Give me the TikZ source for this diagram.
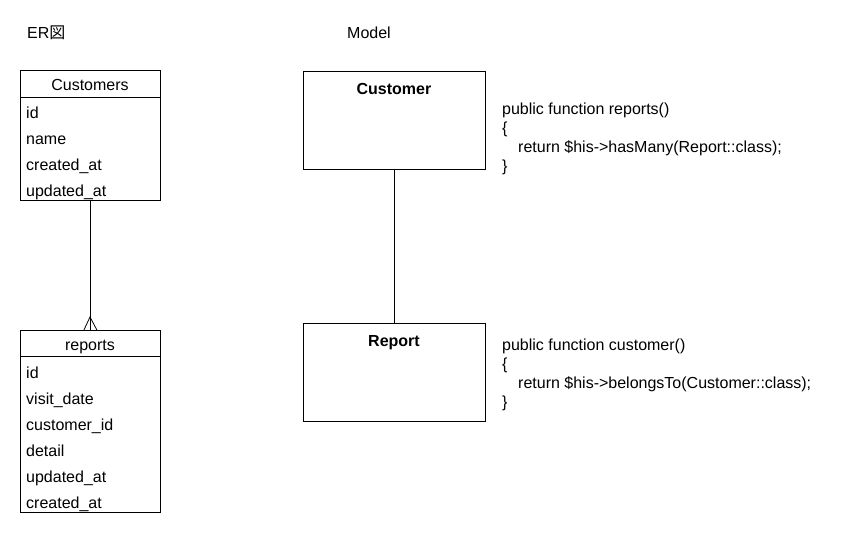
\documentclass[tikz,border=0pt]{standalone}
\usepackage{fontspec}
\setmainfont{Liberation Sans}
\newfontfamily\cjk{Noto Sans CJK JP}
\begin{document}
\begin{tikzpicture}[x=1pt,y=-1pt,
  every node/.style={inner sep=0pt, font=\fontsize{16}{19}\selectfont},
  tbl/.style={draw, line width=0.8pt, rectangle, anchor=north west},
  box/.style={draw, line width=0.8pt, rectangle, anchor=north west, minimum width=182pt, minimum height=98pt},
  rowtxt/.style={anchor=base west},
  codetxt/.style={anchor=base west},
  conn/.style={line width=0.8pt}]
\useasboundingbox (0,0) rectangle (851,536);
% headings
\node[anchor=base west] (erh) at (27,38) {ER{\cjk 図}};
\node[anchor=base west] (mh) at (347,38) {Model};
% Customers table
\node[tbl, minimum width=140pt, minimum height=130pt] (cust) at (20,70) {};
\draw[conn] (20,97) -- (160,97);
\node[anchor=base] (custh) at (90,90) {Customers};
\node[rowtxt] (c1) at (26,118.5) {id};
\node[rowtxt] (c2) at (26,144.5) {name};
\node[rowtxt] (c3) at (26,170.5) {created\_at};
\node[rowtxt] (c4) at (26,196) {updated\_at};
% reports table
\node[tbl, minimum width=140pt, minimum height=182pt] (rep) at (20,330) {};
\draw[conn] (20,356) -- (160,356);
\node[anchor=base] (reph) at (90,350) {reports};
\node[rowtxt] (r1) at (26,378.5) {id};
\node[rowtxt] (r2) at (26,404.5) {visit\_date};
\node[rowtxt] (r3) at (26,430.5) {customer\_id};
\node[rowtxt] (r4) at (26,456.5) {detail};
\node[rowtxt] (r5) at (26,482.5) {updated\_at};
\node[rowtxt] (r6) at (26,508.5) {created\_at};
% ER connector with crow's foot
\coordinate (ftop) at (90,317);
\draw[conn] (cust.south -| 90,0) -- (rep.north -| 90,0);
\draw[conn] ([xshift=-6.5pt]rep.north) -- (ftop) -- ([xshift=6.5pt]rep.north);
% Model boxes
\node[box] (mcust) at (303,71) {};
\node[anchor=base, font=\fontsize{16}{19}\selectfont\bfseries] (mcustt) at (394,94) {Customer};
\node[box] (mrep) at (303,323) {};
\node[anchor=base, font=\fontsize{16}{19}\selectfont\bfseries] (mrept) at (394,346) {Report};
\draw[conn] (mcust.south) -- (mrep.north);
% code
\node[codetxt] (k1) at (502,114) {public function reports()};
\node[codetxt] (k2) at (502,133) {\{};
\node[codetxt] (k3) at (518,152) {return \$his->hasMany(Report::class);};
\node[codetxt] (k4) at (502,171) {\}};
\node[codetxt] (m1) at (502,350) {public function customer()};
\node[codetxt] (m2) at (502,369) {\{};
\node[codetxt] (m3) at (518,388) {return \$his->belongsTo(Customer::class);};
\node[codetxt] (m4) at (502,407) {\}};
\end{tikzpicture}
\end{document}
